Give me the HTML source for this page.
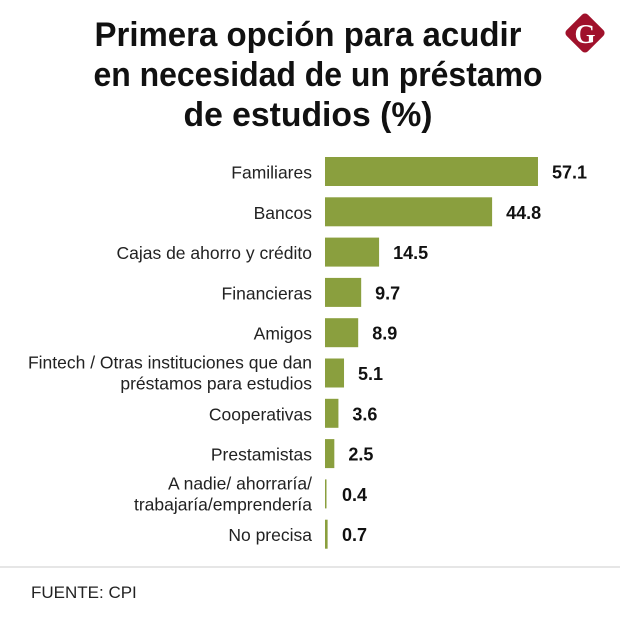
<!DOCTYPE html>
<html><head><meta charset="utf-8"><style>
body{margin:0;background:#fff;}
svg{display:block;font-family:"Liberation Sans",sans-serif;}
</style></head><body>
<svg id="chart" width="620" height="620" viewBox="0 0 620 620">
<rect width="620" height="620" fill="#fff"/>
<g font-weight="bold" font-size="34" fill="#111" text-anchor="middle">
<text x="308" y="46" textLength="427" lengthAdjust="spacingAndGlyphs">Primera opción para acudir</text>
<text x="318" y="86" textLength="449" lengthAdjust="spacingAndGlyphs">en necesidad de un préstamo</text>
<text x="308" y="126" textLength="249" lengthAdjust="spacingAndGlyphs">de estudios (%)</text>
</g>
<g>
<rect x="570" y="18" width="30" height="30" rx="4" fill="#a0112b" transform="rotate(45 585 33)"/>
<text x="585" y="43" font-family="Liberation Serif,serif" font-weight="bold" font-size="27" fill="#fff" text-anchor="middle">G</text>
</g>
<g id="bars"></g>
<line x1="0" y1="567" x2="620" y2="567" stroke="#ddd" stroke-width="1.5"/>
<text x="31" y="598" font-size="17" fill="#222">FUENTE: CPI</text>
</svg>
<script>
const categories = [["Familiares"],["Bancos"],["Cajas de ahorro y crédito"],["Financieras"],["Amigos"],["Fintech / Otras instituciones que dan","préstamos para estudios"],["Cooperativas"],["Prestamistas"],["A nadie/ ahorraría/","trabajaría/emprendería"],["No precisa"]];
const values = [57.1,44.8,14.5,9.7,8.9,5.1,3.6,2.5,0.4,0.7];
const valueLabels = ["57.1","44.8","14.5","9.7","8.9","5.1","3.6","2.5","0.4","0.7"];
const NS="http://www.w3.org/2000/svg";
const x0=325, pxPerUnit=3.73;
const xScale=v=>x0+v*pxPerUnit;
const yScale=i=>157+i*40.3;
const barH=29;
const g=document.getElementById('bars');
values.forEach((v,i)=>{
  const y=yScale(i), w=Math.max(xScale(v)-x0,1.5);
  const r=document.createElementNS(NS,'rect');
  r.setAttribute('x',x0);r.setAttribute('y',y);r.setAttribute('width',w);r.setAttribute('height',barH);r.setAttribute('fill','#8a9f3e');
  
  
  g.appendChild(r);
  const t=document.createElementNS(NS,'text');
  t.setAttribute('x',Math.max(x0+w+14,342));t.setAttribute('y',y+barH/2+7);
  t.setAttribute('font-size','18');t.setAttribute('font-weight','bold');t.setAttribute('fill','#111');
  t.textContent=valueLabels[i];
  
  
  g.appendChild(t);
  const lines=categories[i];
  lines.forEach((ln,j)=>{
    const c=document.createElementNS(NS,'text');
    c.setAttribute('x',312);
    c.setAttribute('y',y+barH/2+6+(j-(lines.length-1)/2)*21+(lines.length===1?1:0));
    c.setAttribute('font-size','17.5');c.setAttribute('fill','#222');c.setAttribute('text-anchor','end');
    c.textContent=ln;
    
    
    g.appendChild(c);
  });
});
</script>
</body></html>
